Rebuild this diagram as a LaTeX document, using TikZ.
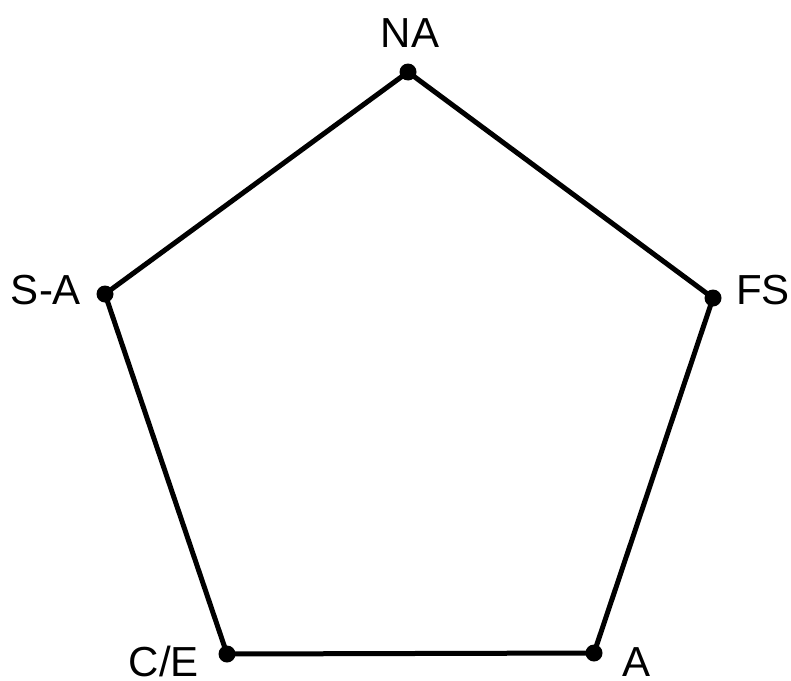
\documentclass[tikz,border=0pt]{standalone}
\usepackage{fontspec}
\setmainfont{Liberation Sans}
\begin{document}
\begin{tikzpicture}[x=1pt,y=-1pt,
  edge/.style={line width=5pt,line join=round,black},
  dot/.style={circle,fill=black,inner sep=0pt,minimum size=17pt},
  lab/.style={anchor=base,inner sep=0pt,font=\fontsize{42}{46}\selectfont}]
\useasboundingbox (0,0) rectangle (791,680);
\node[dot] (na) at (408,72) {};
\node[dot] (sa) at (105,294) {};
\node[dot] (fs) at (713,298) {};
\node[dot] (ce) at (227,654) {};
\node[dot] (a) at (594,653) {};
\draw[edge] (na.center) -- (fs.center) -- (a.center) -- (ce.center) -- (sa.center) -- cycle;
\node[lab] (lna) at (410,47) {NA};
\node[lab] (lsa) at (46,304) {S-A};
\node[lab] (lfs) at (763,304) {FS};
\node[lab] (lce) at (164,676) {C/E};
\node[lab] (la) at (636,676) {A};
\end{tikzpicture}
\end{document}
